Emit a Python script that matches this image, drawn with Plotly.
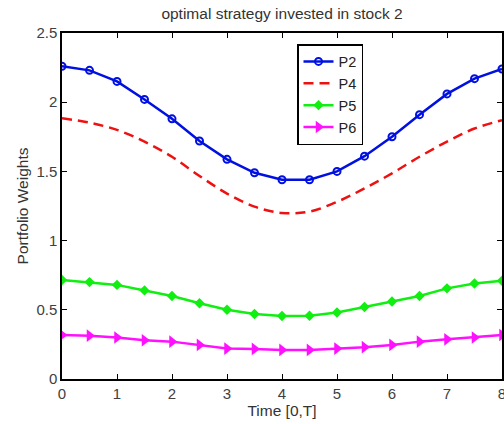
import plotly.graph_objects as go

time = [0, 0.5, 1, 1.5, 2, 2.5, 3, 3.5, 4, 4.5, 5, 5.5, 6, 6.5, 7, 7.5, 8]
p2 = [2.26, 2.23, 2.15, 2.02, 1.88, 1.72, 1.587, 1.49, 1.44, 1.44, 1.50, 1.61, 1.75, 1.91, 2.06, 2.17, 2.24]
p4 = [1.884, 1.852, 1.80, 1.715, 1.606, 1.467, 1.34, 1.245, 1.20, 1.21, 1.28, 1.377, 1.486, 1.606, 1.715, 1.81, 1.87]
p5 = [0.715, 0.70, 0.68, 0.64, 0.60, 0.547, 0.50, 0.47, 0.455, 0.457, 0.48, 0.52, 0.56, 0.60, 0.655, 0.69, 0.71]
p6 = [0.318, 0.313, 0.30, 0.28, 0.27, 0.246, 0.22, 0.217, 0.21, 0.21, 0.22, 0.23, 0.246, 0.27, 0.287, 0.30, 0.318]

font = "Liberation Sans, Arial, sans-serif"
txt = "#333333"

fig = go.Figure()
fig.add_trace(go.Scatter(x=time, y=p2, name="P2", mode="lines+markers",
                         line=dict(color="#0010e0", width=2.5),
                         marker=dict(symbol="circle-open", size=7, color="#0010e0", line=dict(width=2))))
fig.add_trace(go.Scatter(x=time, y=p4, name="P4", mode="lines",
                         line=dict(color="#ee1111", width=2.5, dash="10px,6px", shape="spline")))
fig.add_trace(go.Scatter(x=time, y=p5, name="P5", mode="lines+markers",
                         line=dict(color="#11ee11", width=2.5),
                         marker=dict(symbol="diamond", size=8, color="#11ee11")))
fig.add_trace(go.Scatter(x=time, y=p6, name="P6", mode="lines+markers",
                         line=dict(color="#ff11ff", width=2.5),
                         marker=dict(symbol="triangle-right", size=11, color="#ff11ff")))

axis_common = dict(showgrid=False, zeroline=False, showline=True, linecolor="black", linewidth=1.5,
                   mirror="ticks", ticks="inside", ticklen=5, tickcolor="black",
                   ticklabeloverflow="allow", automargin=False,
                   tickfont=dict(family=font, size=15, color="#404040"))

fig.update_layout(
    width=504, height=424,
    margin=dict(l=62, r=2, t=33, b=45),
    paper_bgcolor="white", plot_bgcolor="white",
    title=dict(text="optimal strategy invested in stock 2", x=(62 + 220) / 504, xanchor="center",
               y=1 - 14 / 424, yanchor="middle", font=dict(family=font, size=15.5, color=txt)),
    xaxis=dict(range=[0, 8], tickvals=list(range(9)),
               title=dict(text="Time [0,T]", font=dict(family=font, size=15.5, color=txt), standoff=2),
               **axis_common),
    yaxis=dict(range=[0, 2.5], tickvals=[0, 0.5, 1, 1.5, 2, 2.5], ticktext=["0", "0.5", "1", "1.5", "2", "2.5"],
               title=dict(text="Portfolio Weights", font=dict(family=font, size=15.5, color=txt), standoff=4),
               **axis_common),
    legend=dict(x=(297 - 62) / 440, y=(379 - 44) / 346, xanchor="left", yanchor="top",
                bgcolor="white", bordercolor="black", borderwidth=1.5,
                font=dict(family=font, size=14.5, color="#222222"), itemwidth=30),
    showlegend=True,
)

fig.write_html("out.html")
